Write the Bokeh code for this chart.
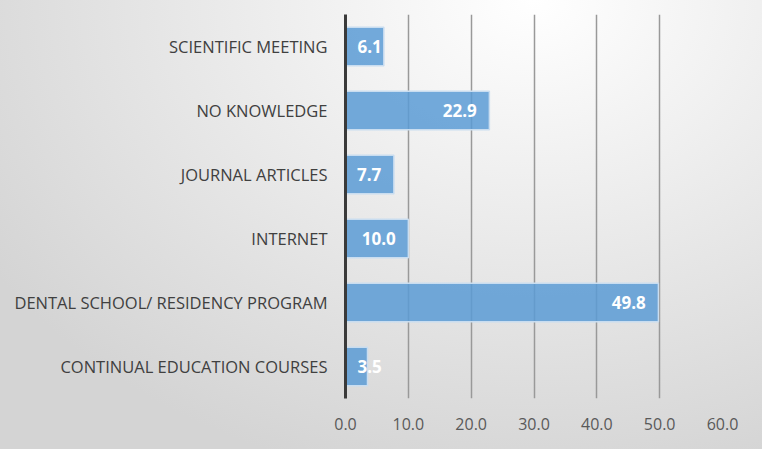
from bokeh.plotting import figure
from bokeh.models import ColumnDataSource, PrintfTickFormatter, FixedTicker
from bokeh.core.properties import value
from bokeh.embed import file_html
from bokeh.resources import INLINE

categories = ["CONTINUAL EDUCATION COURSES", "DENTAL SCHOOL/ RESIDENCY PROGRAM",
              "INTERNET", "JOURNAL ARTICLES", "NO KNOWLEDGE", "SCIENTIFIC MEETING"]
values = [3.5, 49.8, 10.0, 7.7, 22.9, 6.1]
x_ticks = [0, 10, 20, 30, 40, 50, 60]

# label placement rule (Excel "inside end", clamped near the axis for short bars)
def fits(v):
    return v - 2 - 1.3 * len("%.1f" % v) >= 1.5

right_src = ColumnDataSource(dict(
    x=[v - 2 for v in values if fits(v)],
    y=[c for c, v in zip(categories, values) if fits(v)],
    t=["%.1f" % v for v in values if fits(v)]))
left_src = ColumnDataSource(dict(
    x=[1.9 for v in values if not fits(v)],
    y=[c for c, v in zip(categories, values) if not fits(v)],
    t=["%.1f" % v for v in values if not fits(v)]))

src = ColumnDataSource(dict(cat=categories, val=values))

p = figure(width=762, height=449, y_range=categories, x_range=(0, 60),
           output_backend="svg", toolbar_location=None,
           min_border_left=345, min_border_right=40, min_border_top=14, min_border_bottom=51)
p.y_range.range_padding = 0
p.background_fill_color = None
p.border_fill_color = None
p.outline_line_color = None
p.styles = {"background": "radial-gradient(ellipse 85% 110% at 70% 0%, #ffffff 0%, #f2f2f2 30%, #d4d4d4 100%)"}

p.hbar(y="cat", right="val", left=0, height=0.6, source=src,
       fill_color="#5b9bd5", fill_alpha=0.85, line_color="#c9ddf0", line_width=1.5)

p.text(x="x", y="y", text="t", source=right_src, text_align="right", text_baseline="middle",
       text_color="white", text_font=value("Open Sans"), text_font_style="bold", text_font_size="17px")
p.text(x="x", y="y", text="t", source=left_src, text_align="left", text_baseline="middle",
       text_color="white", text_font=value("Open Sans"), text_font_style="bold", text_font_size="17px")

p.xgrid.grid_line_color = "#999999"
p.xgrid.grid_line_width = 1.5
p.xgrid.ticker = FixedTicker(ticks=x_ticks)
p.ygrid.grid_line_color = None

p.xaxis.ticker = FixedTicker(ticks=x_ticks)
p.xaxis.formatter = PrintfTickFormatter(format="%.1f")
p.xaxis.axis_line_color = None
p.xaxis.major_tick_line_color = None
p.xaxis.minor_tick_line_color = None
p.xaxis.major_label_standoff = 13
p.xaxis.major_label_text_font = "Open Sans"
p.xaxis.major_label_text_font_size = "16px"
p.xaxis.major_label_text_color = "#595959"

p.yaxis.axis_line_color = "#3a3a3a"
p.yaxis.axis_line_width = 3
p.yaxis.major_tick_line_color = None
p.yaxis.minor_tick_line_color = None
p.yaxis.major_label_standoff = 12
p.yaxis.major_label_text_font = "Open Sans"
p.yaxis.major_label_text_font_size = "16.5px"
p.yaxis.major_label_text_color = "#404040"

open("out.html", "w").write(file_html(p, INLINE))
